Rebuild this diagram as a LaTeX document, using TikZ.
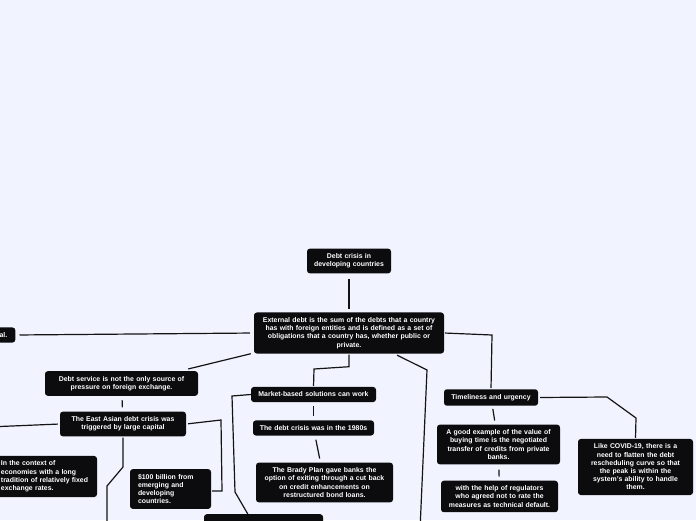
\documentclass[tikz,border=0pt]{standalone}
\usepackage{fontspec}
\setmainfont{Liberation Sans}
\usetikzlibrary{positioning,calc}
\definecolor{mapbg}{RGB}{241,244,254}
\definecolor{topicbox}{RGB}{12,12,14}
\definecolor{linkline}{RGB}{20,20,20}
\tikzset{
  topic/.style={
    fill=topicbox,
    rounded corners=1mm,
    text=white,
    align=center,
    inner xsep=4pt,
    inner ysep=5pt,
    font=\fontsize{6.9}{8.2}\selectfont\bfseries
  },
  link/.style={draw=linkline, line width=1.2pt, shorten <=4pt, shorten >=4pt}
}
\begin{document}
\begin{tikzpicture}[x=1pt, y=-1pt]
  \useasboundingbox (0,0) rectangle (696,520);
  \fill[mapbg] (0,0) rectangle (696,520);
  \clip (0,0) rectangle (696,520);
  % central topics
  \node[topic, text width=76pt] (top) at (349,261) {Debt crisis in\\developing countries};
  \node[topic, text width=182pt] (ext) at (349,333) {External debt is the sum of the debts that a country\\has with foreign entities and is defined as a set of\\obligations that a country has, whether public or\\private.};
  % left branch
  \node[topic, text width=40pt, align=right, inner xsep=8pt, anchor=east] (capital) at (15.5,335) {al.};
  \node[topic, text width=145pt] (service) at (121.5,383.5) {Debt service is not the only source of\\pressure on foreign exchange.};
  \node[topic, text width=118pt] (asian) at (123,424) {The East Asian debt crisis was\\triggered by large capital};
  \node[topic, text width=92pt, align=left] (context) at (47,476.5) {In the context of\\economies with a long\\tradition of relatively fixed\\exchange rates.};
  \node[topic, text width=65pt, align=left, inner xsep=8pt] (billion) at (170.5,489) {\$100 billion from\\emerging and\\developing\\countries.};
  \node[topic, minimum width=119pt, minimum height=22pt, anchor=north] (lower) at (263.5,514) {};
  % middle branch
  \node[topic, text width=117pt] (market) at (313.5,394.5) {Market-based solutions can work};
  \node[topic, text width=113pt, below=18pt of market] (eighties) {The debt crisis was in the 1980s};
  \node[topic, text width=129pt] (brady) at (324.5,482.5) {The Brady Plan gave banks the\\option of exiting through a cut back\\on credit enhancements on\\restructured bond loans.};
  % right branch
  \node[topic, text width=86pt] (timely) at (491,397.5) {Timeliness and urgency};
  \node[topic, text width=115pt] (example) at (498.5,444.5) {A good example of the value of\\buying time is the negotiated\\transfer of credits from private\\banks.};
  \node[topic, text width=109pt, below=16pt of example, xshift=1pt] (regulators) {with the help of regulators\\who agreed not to rate the\\measures as technical default.};
  \node[topic, text width=107pt] (covid) at (635.5,467) {Like COVID-19, there is a\\need to flatten the debt\\rescheduling curve so that\\the peak is within the\\system's ability to handle\\them.};
  \coordinate (offleft) at (107,530);
  \coordinate (offright) at (420,530);
  % connectors
  \draw[link, shorten <=5pt, shorten >=3pt] (top) -- (ext);
  \draw[link] (ext.west) -- (capital.east);
  \draw[link, shorten <=0pt, shorten >=0pt] ($(ext.south west)+(-3,0)$) -- ($(service.north east)+(-10,-2)$);
  \draw[link] (service) -- (asian);
  \draw[link, shorten <=2pt, shorten >=0pt] (asian.west) -- (-12,427) |- (context.west);
  \draw[link, shorten <=2pt, shorten >=1pt] (asian.east) -- (221,420) -- (222,491) -- ($(billion.east)+(0,2)$);
  \draw[link, shorten <=1pt, shorten >=0pt] (asian.south) -- (123,467) -- (107,486) -- (offleft);
  \draw[link, shorten <=1pt, shorten >=1pt] (ext.south) -- ++(0,13) -- (314,369) -- (market.north);
  \draw[link] (market) -- (eighties);
  \draw[link] (eighties) -- (brady);
  \draw[link, shorten <=0pt, shorten >=0pt] (market.west) -- (232,396) -- (235,492) -- ($(lower.north west)+(44,0)$);
  \draw[link, shorten <=1pt, shorten >=0pt] ($(ext.south east)+(-48,1)$) -- (427,370) -- (offright);
  \draw[link, shorten <=1pt, shorten >=1pt] (ext.east) -- (492,335) -- (timely.north);
  \draw[link, shorten <=3pt, shorten >=4pt] (timely) -- (example);
  \draw[link, shorten <=5pt, shorten >=4pt] (example) -- (regulators);
  \draw[link, shorten <=2pt, shorten >=1pt] (timely.east) -- (607,397) -- (636,418) -- (covid.north);
\end{tikzpicture}
\end{document}
